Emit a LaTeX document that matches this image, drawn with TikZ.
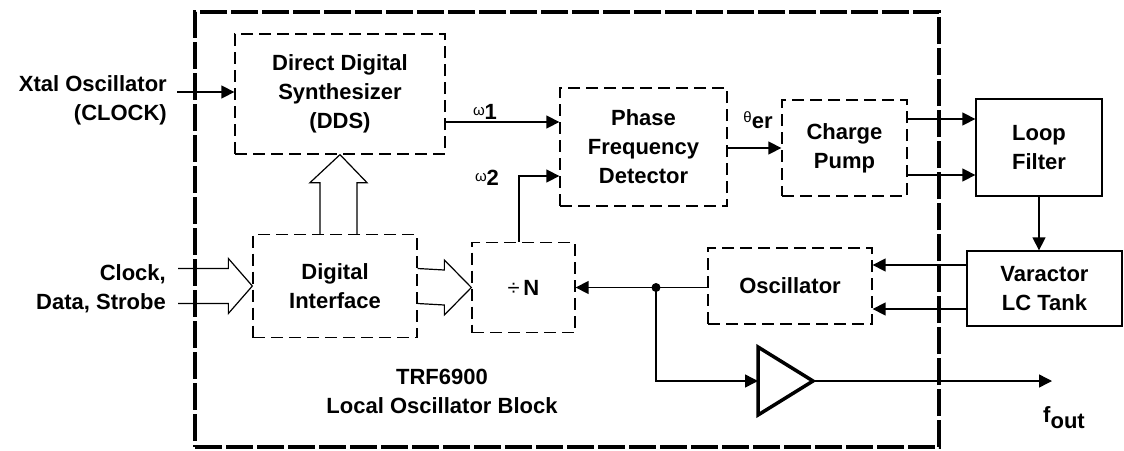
\documentclass[tikz,border=0pt]{standalone}
\usepackage{fontspec}
\setmainfont{Liberation Sans}
\usetikzlibrary{arrows.meta,calc}
\begin{document}
\begin{tikzpicture}[x=1pt,y=-1pt,
  font=\fontsize{22}{29}\selectfont\bfseries,
  dbox/.style={draw, dash pattern=on 12pt off 6pt, line width=1.3pt, inner sep=0pt, align=center},
  sbox/.style={draw, line width=1.3pt, inner sep=0pt, align=center},
  outerbox/.style={draw, dash pattern=on 27pt off 4pt, line width=4pt, inner sep=0pt},
  conn/.style={line width=1.4pt},
  arr/.style={conn, -{Triangle[length=13pt,width=13pt]}},
  hollow/.style={line width=1.2pt, line join=miter},
  lbl/.style={inner sep=0pt, align=center}
]
\useasboundingbox (0,0) rectangle (1124,450);
% outer block
\node[outerbox, minimum width=744pt, minimum height=435pt] (blk) at (567,229.5) {};
% blocks
\node[dbox, minimum width=210pt, minimum height=120pt] (dds) at (340,94) {Direct Digital\\Synthesizer\\(DDS)};
\node[dbox, minimum width=167pt, minimum height=118pt] (pfd) at (643.5,147) {Phase\\Frequency\\Detector};
\node[dbox, minimum width=125pt, minimum height=96pt] (cp) at (844.5,148) {Charge\\Pump};
\node[sbox, minimum width=126pt, minimum height=97pt] (lf) at (1039,147.5) {Loop\\Filter};
\node[sbox, minimum width=155pt, minimum height=75pt] (var) at (1044.5,288.5) {Varactor\\LC Tank};
\node[dbox, minimum width=164pt, minimum height=76pt] (osc) at (790,286) {Oscillator};
\node[dbox, minimum width=103pt, minimum height=90pt] (divn) at (523.5,287.5) {\mdseries÷\,\bfseries N};
\node[dbox, minimum width=164pt, minimum height=103pt] (di) at (335,286) {Digital\\Interface};
% labels
\node[lbl, anchor=east, align=right] (xtal) at (167,100) {Xtal Oscillator\\(CLOCK)};
\node[lbl, anchor=east, align=right] (cds) at (166,289) {Clock,\\Data, Strobe};
\node[lbl] (trf) at (442,391) {TRF6900\\Local Oscillator Block};
\node[lbl] (w1) at (485,112) {\raisebox{4pt}{\fontsize{15}{15}\selectfont\mdseries ω}1};
\node[lbl] (w2) at (487,178) {\raisebox{4pt}{\fontsize{15}{15}\selectfont\mdseries ω}2};
\node[lbl] (ther) at (758,120) {\raisebox{6pt}{\fontsize{15}{15}\selectfont\mdseries θ}er};
\node[lbl] (fout) at (1064,418) {f\raisebox{-6pt}{out}};
% free ends
\coordinate (xin) at (177,92);
\coordinate (cdsin) at (178,286);
\coordinate (dot) at (656,287.5);
\coordinate (ampin) at (758,381);
\coordinate (ampout) at (813,381);
\coordinate (foutend) at (1052,381);
% connectors
\draw[arr] (xin) -- (dds.west |- xin);
\draw[arr] (dds.east |- 0,122) -- (pfd.west |- 0,122);
\draw[arr] ([xshift=-4.5pt]divn.north) |- (pfd.west |- 0,176);
\draw[arr] (pfd.east |- 0,148) -- (cp.west |- 0,148);
\draw[arr] (cp.east |- 0,119) -- (lf.west |- 0,119);
\draw[arr] (cp.east |- 0,175) -- (lf.west |- 0,175);
\draw[arr] (lf.south) -- (var.north -| lf.south);
\draw[arr] (var.west |- 0,265) -- (osc.east |- 0,265);
\draw[arr] (var.west |- 0,309) -- (osc.east |- 0,309);
\draw[arr] (osc.west |- dot) -- (divn.east |- dot);
\fill (dot) circle (4.5pt);
\draw[arr] (dot) |- (ampin);
\draw[line width=3.5pt, line join=miter] (758,347) -- (758,415) -- (ampout) -- cycle;
\draw[arr] (ampout) -- (foutend);
% hollow arrows
\draw[hollow] ([yshift=17.5pt]cdsin) -- ([shift={(-24,-17.5)}]di.west) -- ([shift={(-24,-27.5)}]di.west)
  -- (di.west) -- ([shift={(-24,27.5)}]di.west) -- ([shift={(-24,17.5)}]di.west) -- ([yshift=-17.5pt]cdsin);
\draw[hollow] ([yshift=17.5pt]di.east) -- ([shift={(-27,-17.5)}]divn.west) -- ([shift={(-27,-27.5)}]divn.west)
  -- (divn.west) -- ([shift={(-27,27.5)}]divn.west) -- ([shift={(-27,17.5)}]divn.west) -- ([yshift=-17.5pt]di.east);
\draw[hollow] ([xshift=-20pt]dds.south |- di.north) -- ([shift={(-20,28)}]dds.south)
  -- ([shift={(-30,28)}]dds.south) -- (dds.south) -- ([shift={(27,28)}]dds.south)
  -- ([shift={(17,28)}]dds.south) -- ([xshift=17pt]dds.south |- di.north);
\end{tikzpicture}
\end{document}
